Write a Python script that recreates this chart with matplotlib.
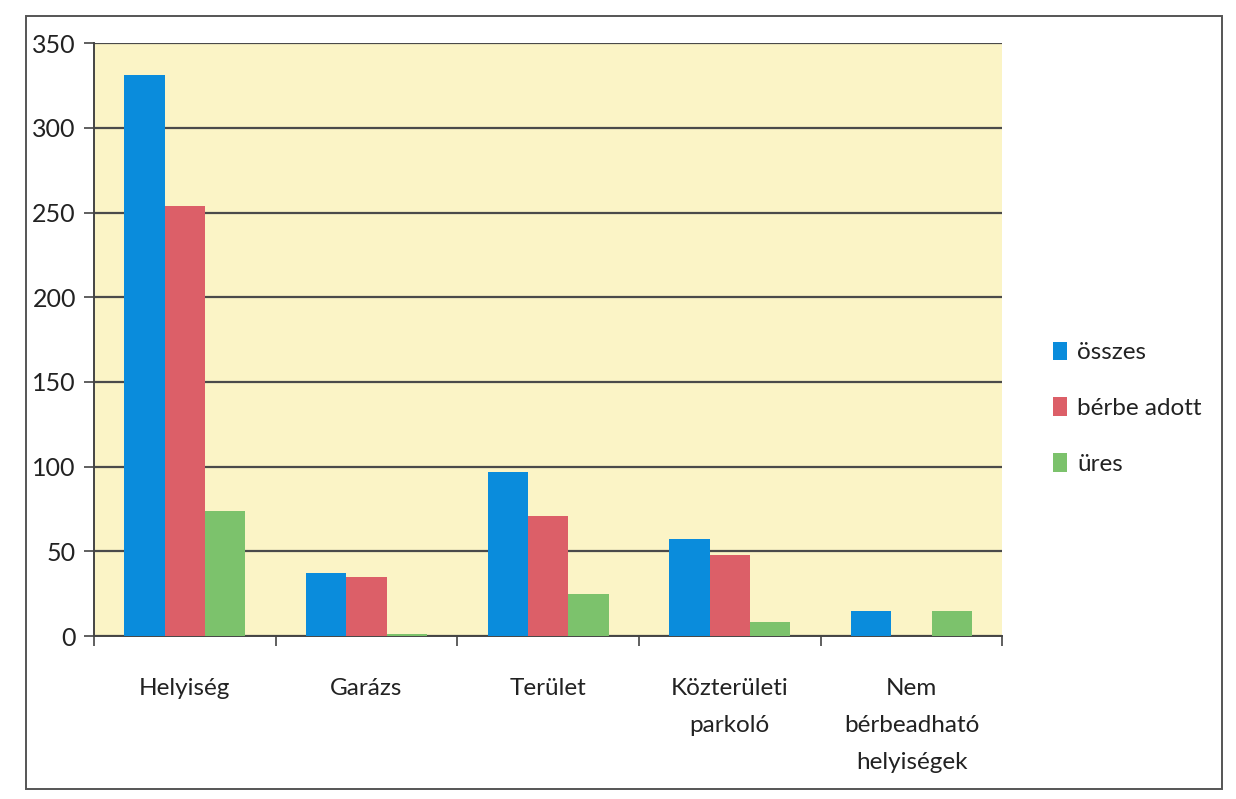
import matplotlib.pyplot as plt
import numpy as np
from matplotlib.patches import Rectangle

# Data ---------------------------------------------------
categories = ['Helyiség', 'Garázs', 'Terület', 'Közterületi\nparkoló', 'Nem\nbérbeadható\nhelyiségek']
osszes     = [331, 37, 97, 57, 15]
berbe      = [254, 35, 71, 48, 0]
ures       = [74, 1, 25, 8, 15]
series_names = ['összes', 'bérbe adott', 'üres']
colors       = ['#0a8cdc', '#dc5f68', '#7cc26c']
yticks = [0, 50, 100, 150, 200, 250, 300, 350]

plt.rcParams['font.family'] = ['Lato', 'DejaVu Sans']

fig = plt.figure(figsize=(12.36, 7.99), dpi=100)
fig.patch.set_facecolor('white')
ax = fig.add_axes([0.076, 0.204, 0.735, 0.742])
ax.set_facecolor('#fbf4c6')

x = np.arange(len(categories))
w = 0.222
for k, (vals, name, col) in enumerate(zip([osszes, berbe, ures], series_names, colors)):
    ax.bar(x + (k - 1) * w, vals, width=w, color=col, label=name, zorder=3)

ax.set_xlim(-0.5, len(categories) - 0.5)
ax.set_ylim(0, 350)
ax.set_yticks(yticks)
ax.tick_params(axis='y', labelsize=18, length=7, width=1.2, color='#444444', pad=6, labelcolor='#222222')
ax.yaxis.grid(True, color='#4a4a4a', linewidth=1.6, zorder=1)
ax.set_axisbelow(True)

# category labels centred, ticks on the boundaries
ax.set_xticks(x)
ax.set_xticklabels(categories, fontsize=17.5, linespacing=1.95, color='#222222')
ax.tick_params(axis='x', length=0, pad=30)
ax.set_xticks(np.arange(-0.5, len(categories)), minor=True)
ax.tick_params(axis='x', which='minor', length=7, width=1.2, color='#444444')

for s in ['top', 'right']:
    ax.spines[s].set_visible(False)
for s in ['left', 'bottom']:
    ax.spines[s].set_color('#444444')
    ax.spines[s].set_linewidth(1.4)

leg = ax.legend(loc='center left', bbox_to_anchor=(0.834, 0.489), bbox_transform=fig.transFigure,
                frameon=False, fontsize=17.5, handlelength=0.6, handleheight=0.8,
                handletextpad=0.4, labelspacing=1.4)
for t in leg.get_texts():
    t.set_color('#222222')

# outer chart border
fig.patches.append(Rectangle((0.021, 0.012), 0.968, 0.968, transform=fig.transFigure,
                             fill=False, edgecolor='#555555', linewidth=1.4))

fig.savefig('out.png', dpi=100)
